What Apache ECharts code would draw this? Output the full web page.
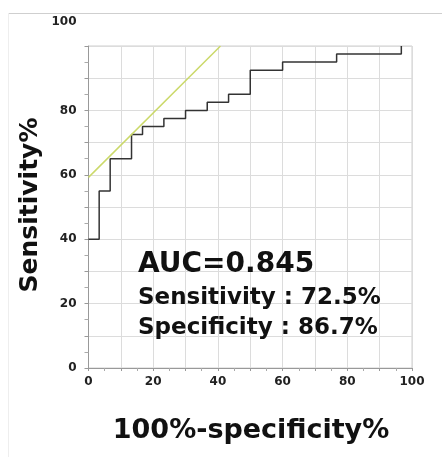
<!DOCTYPE html>
<html>
<head>
<meta charset="utf-8">
<script src="https://cdn.jsdelivr.net/npm/echarts@6/dist/echarts.min.js"></script>
<style>
  html, body { margin: 0; padding: 0; background: #fff; }
  #chartBox { width: 442px; height: 457px; }
</style>
</head>
<body>
<div id="chartBox"></div>
<script>
// ROC curve corner points (1 - specificity, sensitivity)
const fprValues = [0, 3.3, 6.7, 13.3, 16.7, 23.3, 30, 36.7, 43.3, 50, 60, 76.7, 96.7]
const tprValues = [40, 55, 65, 72.5, 75, 77.5, 80, 82.5, 85, 92.5, 95, 97.5, 100]
// tangent line through the cut-off point
const tangentX = [0, 40.8]
const tangentY = [59.2, 100]
const tickLabels = [0, 20, 40, 60, 80, 100]

const font = 'DejaVu Sans'
const labelFmt = (v) => (tickLabels.indexOf(v) >= 0 ? String(v) : '')

var myChart = echarts.init(document.getElementById('chartBox'))

const chartOptions = {
  animation: false,
  grid: {
    left: 88.5, right: 30, top: 46, bottom: 89,
    show: true, borderColor: '#cfcfcf', borderWidth: 1
  },
  xAxis: {
    type: 'value', min: 0, max: 100, interval: 10,
    axisLine: { show: true, onZero: false, lineStyle: { color: '#999' } },
    axisTick: { show: true, length: 3, lineStyle: { color: '#999' } },
    minorTick: { show: true, splitNumber: 2, length: 3, lineStyle: { color: '#aaa' } },
    splitLine: { show: true, lineStyle: { color: '#dcdcdc' } },
    axisLabel: {
      formatter: labelFmt, color: '#222', fontFamily: font,
      fontWeight: 'bold', fontSize: 12, margin: 8, showMaxLabel: true
    }
  },
  yAxis: {
    type: 'value', min: 0, max: 100, interval: 10,
    axisLine: { show: true, lineStyle: { color: '#999' } },
    axisTick: { show: true, length: 4, lineStyle: { color: '#999' } },
    minorTick: { show: true, splitNumber: 2, length: 4, lineStyle: { color: '#aaa' } },
    splitLine: { show: true, lineStyle: { color: '#dcdcdc' } },
    axisLabel: {
      formatter: (v) => (v === 100 ? '{t|100}' : labelFmt(v)),
      color: '#222', fontFamily: font, fontWeight: 'bold', fontSize: 12, margin: 12,
      rich: { t: { fontFamily: font, fontWeight: 'bold', fontSize: 12, color: '#222', padding: [0, 0, 48, 0] } }
    }
  },
  series: [
    {
      type: 'line', step: 'end', symbol: 'none',
      lineStyle: { color: '#333', width: 1.5 },
      data: fprValues.map((x, i) => [x, tprValues[i]])
    },
    {
      type: 'line', symbol: 'none',
      lineStyle: { color: '#cbd96a', width: 1.5 },
      data: tangentX.map((x, i) => [x, tangentY[i]])
    }
  ],
  graphic: [
    { type: 'line', z: 100, shape: { x1: 8, y1: 13.5, x2: 442, y2: 13.5 }, style: { stroke: '#cfcfcf', lineWidth: 1 } },
    { type: 'line', z: 100, shape: { x1: 8.5, y1: 13, x2: 8.5, y2: 457 }, style: { stroke: '#eeeeee', lineWidth: 1 } },
    {
      type: 'text', z: 100, x: 30, y: 205, rotation: Math.PI / 2,
      style: { text: 'Sensitivity%', font: 'bold 25px "DejaVu Sans"', fill: '#111', align: 'center', verticalAlign: 'middle' }
    },
    {
      type: 'text', z: 100, x: 251, y: 431,
      style: { text: '100%-specificity%', font: 'bold 27px "DejaVu Sans"', fill: '#111', align: 'center', verticalAlign: 'middle' }
    },
    {
      type: 'text', z: 100, x: 138, y: 265,
      style: { text: 'AUC=0.845', font: 'bold 28px "DejaVu Sans"', fill: '#111', verticalAlign: 'middle' }
    },
    {
      type: 'text', z: 100, x: 138, y: 298,
      style: { text: 'Sensitivity : 72.5%', font: 'bold 23px "DejaVu Sans"', fill: '#111', verticalAlign: 'middle' }
    },
    {
      type: 'text', z: 100, x: 138, y: 328,
      style: { text: 'Specificity : 86.7%', font: 'bold 23px "DejaVu Sans"', fill: '#111', verticalAlign: 'middle' }
    }
  ]
}

if (myChart) {
  myChart.setOption(chartOptions)
}
</script>
</body>
</html>
